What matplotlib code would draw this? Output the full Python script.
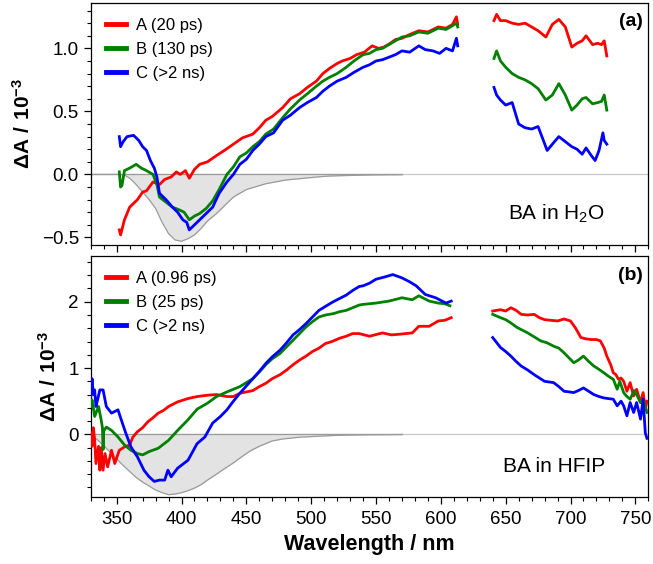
import numpy as np
import matplotlib
matplotlib.use('Agg')
import matplotlib.pyplot as plt
from matplotlib.ticker import MultipleLocator

plt.rcParams['font.family'] = ['Liberation Sans', 'DejaVu Sans']
plt.rcParams['mathtext.fontset'] = 'custom'
plt.rcParams['mathtext.rm'] = 'Liberation Sans'
plt.rcParams['mathtext.bf'] = 'Liberation Sans:bold'

# ---- panel (a): BA in H2O ----
a_red_wl1 = [352, 353, 356, 360, 363, 366, 370, 373, 378, 383, 387, 392, 396, 399, 403, 406, 410, 414, 420, 427,
             433, 440, 447, 455, 460, 465, 470, 478, 484, 491, 497, 504, 509, 514, 520, 524, 530, 535, 541, 547,
             552, 556, 561, 565, 570, 576, 583, 590, 598, 604, 609, 612, 613]
a_red_1 = [-0.44, -0.48, -0.36, -0.26, -0.23, -0.2, -0.14, -0.13, -0.06, -0.08, -0.04, -0.02, 0.02, 0.0, 0.03, -0.03,
           0.04, 0.08, 0.1, 0.15, 0.19, 0.24, 0.29, 0.32, 0.37, 0.43, 0.46, 0.53, 0.6, 0.64, 0.69, 0.74, 0.8, 0.84,
           0.88, 0.9, 0.92, 0.95, 0.97, 1.02, 1.0, 1.01, 1.04, 1.07, 1.08, 1.11, 1.14, 1.13, 1.17, 1.16, 1.19, 1.25, 1.19]
a_green_wl1 = [352, 353, 354, 356, 360, 365, 369, 373, 378, 381, 383, 388, 393, 398, 402, 406, 410, 414, 419, 424,
               429, 435, 440, 445, 450, 455, 460, 465, 471, 478, 484, 491, 497, 504, 509, 514, 520, 527, 533, 540,
               545, 550, 555, 560, 565, 570, 576, 583, 590, 598, 604, 609, 612, 613]
a_green_1 = [0.02, -0.1, -0.09, 0.03, 0.05, 0.08, 0.05, 0.03, 0.0, -0.08, -0.18, -0.22, -0.26, -0.28, -0.3, -0.36,
             -0.33, -0.31, -0.27, -0.21, -0.12, 0.0, 0.06, 0.14, 0.17, 0.22, 0.26, 0.32, 0.36, 0.45, 0.52, 0.59, 0.64,
             0.7, 0.74, 0.77, 0.8, 0.85, 0.9, 0.95, 0.96, 0.99, 1.0, 1.03, 1.06, 1.09, 1.1, 1.13, 1.12, 1.16, 1.15,
             1.18, 1.2, 1.17]
a_blue_wl1 = [352, 353, 355, 358, 363, 367, 370, 373, 376, 379, 381, 383, 388, 393, 397, 401, 404, 406, 410, 414,
              419, 424, 429, 435, 440, 445, 450, 455, 460, 465, 471, 478, 484, 491, 497, 504, 509, 514, 520, 527,
              533, 540, 545, 550, 555, 560, 565, 570, 576, 583, 588, 594, 599, 604, 609, 612, 613]
a_blue_1 = [0.3, 0.22, 0.26, 0.3, 0.31, 0.27, 0.22, 0.19, 0.11, 0.05, -0.02, -0.15, -0.2, -0.26, -0.3, -0.36, -0.38,
            -0.44, -0.4, -0.36, -0.31, -0.26, -0.15, -0.06, 0.0, 0.08, 0.12, 0.19, 0.24, 0.3, 0.33, 0.43, 0.47, 0.53,
            0.57, 0.61, 0.66, 0.7, 0.74, 0.77, 0.81, 0.85, 0.87, 0.9, 0.91, 0.93, 0.95, 0.98, 0.97, 1.02, 0.99, 0.98,
            0.96, 1.0, 0.98, 1.08, 1.02]

a_wl2 = [641, 643, 646, 650, 655, 660, 665, 670, 675, 681, 686, 691, 696, 701, 705, 709, 712, 717, 721, 724, 726, 728]
a_red_2 = [1.22, 1.27, 1.22, 1.22, 1.2, 1.19, 1.2, 1.17, 1.14, 1.09, 1.19, 1.23, 1.17, 1.01, 1.04, 1.06, 1.1, 1.03,
           1.04, 1.03, 1.06, 0.94]
a_green_2 = [0.92, 0.98, 0.9, 0.85, 0.8, 0.77, 0.75, 0.72, 0.68, 0.59, 0.63, 0.72, 0.63, 0.51, 0.55, 0.6, 0.61, 0.56,
             0.57, 0.58, 0.63, 0.51]
a_blue_wl2 = [641, 643, 646, 650, 655, 660, 665, 670, 675, 682, 686, 691, 696, 701, 705, 709, 712, 716, 719, 722, 725,
              726, 728]
a_blue_2 = [0.69, 0.63, 0.59, 0.55, 0.57, 0.4, 0.37, 0.36, 0.38, 0.19, 0.24, 0.3, 0.26, 0.22, 0.2, 0.16, 0.21, 0.15,
            0.11, 0.19, 0.33, 0.27, 0.24]

a_abs_wl = [330, 350, 356, 360, 365, 370, 375, 380, 385, 390, 395, 400, 405, 410, 415, 420, 427, 435, 440, 450,
            465, 480, 491, 505, 514, 530, 550, 570]
a_abs = [0, 0, -0.005, -0.03, -0.08, -0.14, -0.2, -0.27, -0.38, -0.47, -0.52, -0.53, -0.51, -0.48, -0.43, -0.37,
         -0.31, -0.23, -0.18, -0.12, -0.074, -0.045, -0.034, -0.02, -0.013, -0.008, -0.004, -0.002]

# ---- panel (b): BA in HFIP ----
b_red_wl1 = [330, 331, 332, 333, 334, 336, 337, 338, 339.5, 341, 343, 346, 348.5, 352, 356, 360, 362.5, 366, 370, 374,
             378, 382, 386, 390, 397, 405, 412, 420, 427, 435, 440, 445, 450, 455, 460, 465, 470, 476, 481, 486,
             491, 496, 501, 506, 511, 516, 522, 527, 532, 537, 545, 555, 562, 568, 573, 578, 583, 591, 598, 603, 608]
b_red_1 = [0.02, -0.18, 0.1, -0.08, -0.44, -0.18, -0.54, -0.2, -0.54, -0.29, -0.49, -0.24, -0.44, -0.24, -0.19,
           -0.16, -0.04, 0.04, 0.1, 0.19, 0.25, 0.32, 0.36, 0.42, 0.49, 0.54, 0.57, 0.59, 0.6, 0.57, 0.57, 0.62, 0.64,
           0.66, 0.72, 0.77, 0.84, 0.9, 0.97, 1.05, 1.12, 1.18, 1.25, 1.3, 1.37, 1.4, 1.45, 1.48, 1.52, 1.52, 1.48,
           1.53, 1.5, 1.51, 1.52, 1.53, 1.63, 1.63, 1.71, 1.72, 1.76]
b_green_wl1 = [330, 331, 333, 336, 338, 339, 339.5, 340, 342, 346, 351, 356, 361, 366, 370, 375, 382, 390, 397, 405,
               412, 420, 427, 435, 445, 455, 460, 465, 470, 476, 481, 486, 491, 496, 501, 506, 511, 517, 522, 527,
               532, 537, 540, 550, 560, 570, 578, 583, 591, 598, 603, 607]
b_green_1 = [0.42, 0.52, 0.27, 0.42, 0.22, 0.1, -0.23, 0.05, 0.11, 0.06, -0.04, -0.16, -0.24, -0.29, -0.31, -0.26,
             -0.21, -0.09, 0.06, 0.22, 0.38, 0.47, 0.57, 0.64, 0.72, 0.84, 0.94, 1.05, 1.14, 1.22, 1.32, 1.42, 1.52,
             1.62, 1.7, 1.77, 1.8, 1.82, 1.85, 1.87, 1.91, 1.95, 1.96, 1.98, 2.01, 2.06, 2.03, 2.09, 2.01, 1.98, 1.97,
             1.94]
b_blue_wl1 = [330, 331, 332, 333, 334, 335, 337, 339.5, 342, 346, 351, 353.5, 357, 361, 366, 371, 375, 379, 383, 387,
              389.5, 392, 397, 405, 412, 418, 424, 430, 435, 440, 445, 450, 455, 460, 465, 470, 476, 481, 486, 491,
              496, 501, 506, 511, 517, 522, 527, 532, 537, 540, 545, 550, 556, 563, 570, 576, 581, 588, 596, 604, 608]
b_blue_1 = [0.57, 0.84, 0.6, 0.67, 0.42, 0.5, 0.67, 0.67, 0.42, 0.32, 0.37, 0.22, 0.02, -0.19, -0.34, -0.54, -0.64,
            -0.71, -0.69, -0.69, -0.54, -0.64, -0.51, -0.39, -0.14, -0.04, 0.17, 0.27, 0.37, 0.5, 0.62, 0.73, 0.84,
            0.95, 1.07, 1.17, 1.27, 1.38, 1.5, 1.58, 1.67, 1.77, 1.87, 1.93, 2.0, 2.05, 2.1, 2.17, 2.23, 2.24, 2.28,
            2.34, 2.37, 2.41, 2.36, 2.3, 2.24, 2.11, 2.06, 1.98, 2.01]

b_red_wl2 = [640, 646, 650, 654, 658, 662, 667, 672, 676, 680, 685, 690, 695, 700, 704, 708, 712, 716, 720, 723,
             726, 728, 731, 733, 735, 737, 739, 741, 743.5, 746, 748.7, 751, 754, 756, 757.7, 759]
b_red_2 = [1.86, 1.88, 1.86, 1.91, 1.87, 1.81, 1.8, 1.81, 1.76, 1.73, 1.72, 1.71, 1.74, 1.71, 1.6, 1.46, 1.44, 1.43,
           1.43, 1.41, 1.3, 1.18, 1.05, 0.93, 0.9, 0.83, 0.85, 0.8, 0.65, 0.78, 0.58, 0.68, 0.48, 0.63, 0.38, 0.5]
b_green_wl2 = [640, 646, 650, 654, 659, 663, 667, 672, 677, 682, 687, 691, 695, 699, 702.5, 706, 710, 714, 718, 722,
               725.6, 729, 733, 736, 738, 741, 743, 746, 749, 751, 754, 756, 759]
b_green_2 = [1.81, 1.76, 1.73, 1.68, 1.61, 1.57, 1.53, 1.47, 1.41, 1.38, 1.33, 1.3, 1.23, 1.15, 1.08, 1.12, 1.18,
             1.1, 1.03, 0.98, 0.93, 0.88, 0.83, 0.68, 0.8, 0.63, 0.58, 0.53, 0.66, 0.6, 0.48, 0.53, 0.33]
b_blue_wl2 = [640, 646, 650, 654, 658, 662, 667, 672, 676, 680, 687, 691, 695, 699, 702.5, 706, 710, 714, 718, 722,
              725.6, 729, 733, 736, 739, 741, 743.5, 746, 748.7, 751, 754, 756, 757.7, 759]
b_blue_2 = [1.46, 1.31, 1.25, 1.18, 1.1, 1.03, 0.97, 0.9, 0.85, 0.8, 0.78, 0.72, 0.65, 0.64, 0.63, 0.66, 0.7, 0.65,
            0.6, 0.57, 0.55, 0.54, 0.53, 0.43, 0.5, 0.43, 0.28, 0.48, 0.33, 0.48, 0.23, 0.53, 0.02, -0.06]

b_abs_wl = [330, 335, 340, 345, 350, 355, 360, 365, 370, 375, 380, 385, 390, 395, 400, 405, 410, 415, 420, 427,
            433, 440, 447, 453, 460, 470, 478, 490, 504, 520, 540, 570]
b_abs = [-0.02, -0.08, -0.17, -0.27, -0.37, -0.47, -0.56, -0.65, -0.72, -0.78, -0.84, -0.88, -0.91, -0.9, -0.88,
         -0.85, -0.81, -0.76, -0.69, -0.6, -0.52, -0.43, -0.33, -0.25, -0.18, -0.1, -0.07, -0.045, -0.03, -0.015,
         -0.008, -0.003]

labels_a = ['A (20 ps)', 'B (130 ps)', 'C (>2 ns)']
labels_b = ['A (0.96 ps)', 'B (25 ps)', 'C (>2 ns)']
colors = ['#ff0000', '#008000', '#0000ff']

fig = plt.figure(figsize=(6.53, 5.64), dpi=100)
ax1 = fig.add_axes([0.139, 0.5656, 0.8538, 0.4291])
ax2 = fig.add_axes([0.139, 0.1182, 0.8538, 0.4279])

panels = [
    (ax1, [(a_red_wl1, a_red_1, a_wl2, a_red_2), (a_green_wl1, a_green_1, a_wl2, a_green_2),
           (a_blue_wl1, a_blue_1, a_blue_wl2, a_blue_2)], a_abs_wl, a_abs, labels_a),
    (ax2, [(b_red_wl1, b_red_1, b_red_wl2, b_red_2), (b_green_wl1, b_green_1, b_green_wl2, b_green_2),
           (b_blue_wl1, b_blue_1, b_blue_wl2, b_blue_2)], b_abs_wl, b_abs, labels_b),
]

for ax, series, abs_wl, abs_val, labels in panels:
    ax.axhline(0, color='#c8c8c8', lw=0.9, zorder=1)
    ax.fill_between(abs_wl, abs_val, 0, color='#e3e3e3', lw=0, zorder=1)
    ax.plot(abs_wl, abs_val, color='#9a9a9a', lw=0.9, zorder=2)
    ax.plot([abs_wl[0], abs_wl[-1]], [0, 0], color='#9a9a9a', lw=0.9, zorder=2)
    handles = []
    for (w1, v1, w2, v2), c, lab in zip(series, colors, labels):
        h, = ax.plot(w1, v1, color=c, lw=2, label=lab, zorder=3)
        ax.plot(w2, v2, color=c, lw=2, zorder=3)
        handles.append(h)
    leg = ax.legend(handles=handles, loc='upper left', frameon=False, fontsize=12,
                    handlelength=1.2, handletextpad=0.6, labelspacing=0.55,
                    borderaxespad=0.5, bbox_to_anchor=(0.0, 1.0))
    for line in leg.get_lines():
        line.set_linewidth(3.5)
    ax.set_xlim(330, 760)
    ax.xaxis.set_major_locator(MultipleLocator(50))
    ax.xaxis.set_minor_locator(MultipleLocator(10))
    ax.tick_params(which='major', direction='out', length=5, width=0.9, labelsize=13.5)
    ax.tick_params(which='minor', direction='out', length=3, width=0.8)
    ax.tick_params(top=False, right=False)
    for s in ax.spines.values():
        s.set_linewidth(0.9)
    ax.set_ylabel(r'$\mathbf{\Delta A\ /\ 10^{-3}}$', fontsize=15, labelpad=6)

ax1.set_ylim(-0.56, 1.36)
ax1.yaxis.set_minor_locator(MultipleLocator(0.1))
ax1.set_yticks([-0.5, 0.0, 0.5, 1.0])
ax1.set_yticklabels(['\u22120.5', '0.0', '0.5', '1.0'])
ax1.tick_params(axis='x', labelbottom=False)

ax2.set_ylim(-0.95, 2.69)
ax2.yaxis.set_major_locator(MultipleLocator(1))
ax2.yaxis.set_minor_locator(MultipleLocator(0.2))
ax2.tick_params(axis='x', pad=5)
ax2.set_xlabel('Wavelength / nm', fontsize=15.5, fontweight='bold', labelpad=4)

ax1.text(0.922, 0.13, r'BA in H$_2$O', transform=ax1.transAxes, ha='right', va='center', fontsize=15)
ax2.text(0.922, 0.126, 'BA in HFIP', transform=ax2.transAxes, ha='right', va='center', fontsize=15)
ax1.text(0.99, 0.923, '(a)', transform=ax1.transAxes, ha='right', va='center', fontsize=14, fontweight='bold')
ax2.text(0.99, 0.921, '(b)', transform=ax2.transAxes, ha='right', va='center', fontsize=14, fontweight='bold')

fig.savefig('out.png', dpi=100)
